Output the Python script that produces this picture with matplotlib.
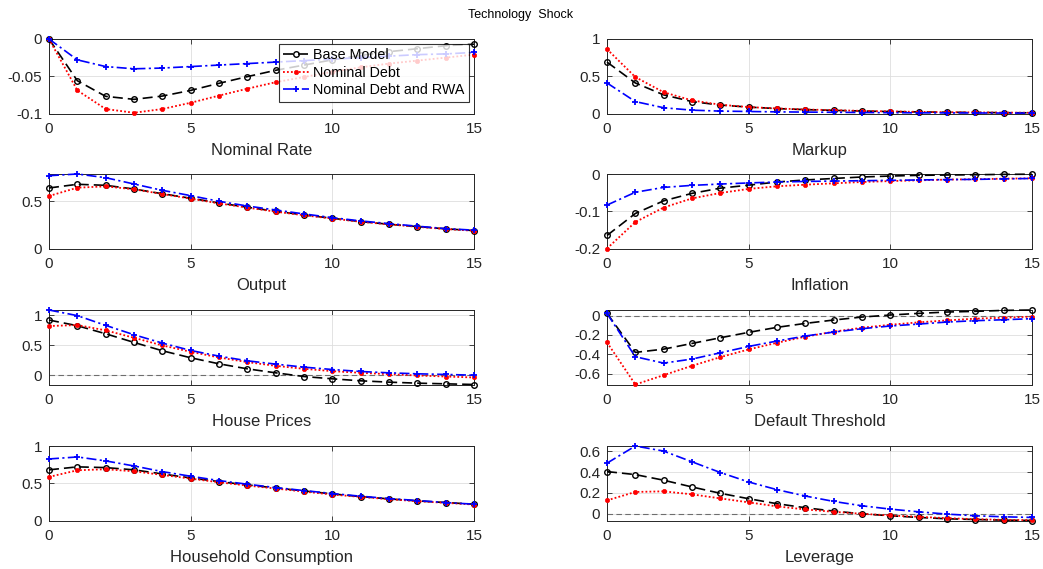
import matplotlib
matplotlib.use("Agg")
import matplotlib.pyplot as plt
import numpy as np

plt.rcParams['font.family'] = ['Liberation Sans', 'DejaVu Sans']

periods = list(range(16))
series_names = ["Base Model", "Nominal Debt", "Nominal Debt and RWA"]
panel_titles = ["Nominal Rate", "Markup", "Output", "Inflation",
                "House Prices", "Default Threshold", "Household Consumption", "Leverage"]

nominal_rate_base = [0, -0.056, -0.077, -0.081, -0.0766, -0.069, -0.0595, -0.0505, -0.042, -0.035, -0.028, -0.022, -0.017, -0.013, -0.009, -0.007]
nominal_rate_nd = [0, -0.069, -0.094, -0.099, -0.094, -0.0856, -0.076, -0.0667, -0.058, -0.051, -0.044, -0.038, -0.033, -0.029, -0.025, -0.021]
nominal_rate_rwa = [0, -0.028, -0.037, -0.040, -0.039, -0.037, -0.035, -0.033, -0.031, -0.029, -0.027, -0.025, -0.023, -0.021, -0.020, -0.018]

markup_base = [0.69, 0.41, 0.25, 0.16, 0.113, 0.086, 0.066, 0.052, 0.042, 0.033, 0.026, 0.021, 0.017, 0.014, 0.011, 0.009]
markup_nd = [0.864, 0.489, 0.285, 0.176, 0.118, 0.086, 0.068, 0.054, 0.045, 0.035, 0.028, 0.022, 0.018, 0.015, 0.012, 0.010]
markup_rwa = [0.41, 0.16, 0.077, 0.045, 0.032, 0.027, 0.022, 0.019, 0.016, 0.013, 0.011, 0.009, 0.008, 0.007, 0.006, 0.005]

output_base = [0.641, 0.68, 0.669, 0.63, 0.58, 0.532, 0.482, 0.437, 0.394, 0.356, 0.32, 0.285, 0.257, 0.232, 0.208, 0.19]
output_nd = [0.556, 0.644, 0.658, 0.627, 0.577, 0.528, 0.478, 0.433, 0.39, 0.352, 0.317, 0.283, 0.255, 0.23, 0.206, 0.188]
output_rwa = [0.771, 0.789, 0.75, 0.683, 0.616, 0.56, 0.5, 0.45, 0.408, 0.366, 0.327, 0.292, 0.264, 0.236, 0.211, 0.194]

inflation_base = [-0.165, -0.106, -0.072, -0.052, -0.038, -0.03, -0.0215, -0.016, -0.012, -0.008, -0.0055, -0.0036, -0.0027, -0.002, -0.001, -0.0005]
inflation_nd = [-0.2, -0.129, -0.09, -0.0655, -0.051, -0.04, -0.033, -0.0287, -0.025, -0.0215, -0.019, -0.017, -0.015, -0.014, -0.0125, -0.0115]
inflation_rwa = [-0.0834, -0.049, -0.036, -0.0305, -0.027, -0.024, -0.0215, -0.02, -0.019, -0.018, -0.017, -0.016, -0.015, -0.0145, -0.013, -0.012]

house_base = [0.917, 0.823, 0.69, 0.547, 0.409, 0.293, 0.193, 0.11, 0.044, -0.017, -0.055, -0.088, -0.11, -0.127, -0.138, -0.149]
house_nd = [0.818, 0.834, 0.746, 0.624, 0.497, 0.392, 0.298, 0.221, 0.16, 0.11, 0.072, 0.044, 0.022, 0.0, -0.017, -0.033]
house_rwa = [1.083, 0.99, 0.829, 0.674, 0.536, 0.414, 0.32, 0.243, 0.188, 0.138, 0.099, 0.066, 0.044, 0.028, 0.017, 0.005]

default_base = [0.024, -0.381, -0.347, -0.288, -0.229, -0.173, -0.121, -0.08, -0.045, -0.014, 0.007, 0.024, 0.038, 0.045, 0.055, 0.059]
default_nd = [-0.277, -0.714, -0.617, -0.52, -0.43, -0.35, -0.281, -0.218, -0.166, -0.125, -0.094, -0.069, -0.049, -0.031, -0.021, -0.01]
default_rwa = [0.024, -0.426, -0.492, -0.45, -0.385, -0.319, -0.263, -0.211, -0.17, -0.135, -0.107, -0.087, -0.066, -0.052, -0.042, -0.031]

cons_base = [0.68, 0.72, 0.71, 0.68, 0.625, 0.571, 0.522, 0.478, 0.437, 0.397, 0.357, 0.321, 0.29, 0.263, 0.241, 0.219]
cons_nd = [0.585, 0.674, 0.688, 0.66, 0.612, 0.562, 0.513, 0.469, 0.429, 0.388, 0.348, 0.317, 0.286, 0.259, 0.237, 0.214]
cons_rwa = [0.826, 0.853, 0.8, 0.732, 0.656, 0.594, 0.536, 0.487, 0.442, 0.402, 0.362, 0.326, 0.295, 0.268, 0.241, 0.219]

lev_base = [0.406, 0.377, 0.323, 0.258, 0.197, 0.145, 0.097, 0.058, 0.026, 0.0, -0.019, -0.035, -0.048, -0.055, -0.061, -0.0645]
lev_nd = [0.129, 0.21, 0.216, 0.187, 0.148, 0.11, 0.071, 0.042, 0.019, 0.0, -0.016, -0.029, -0.042, -0.052, -0.058, -0.061]
lev_rwa = [0.487, 0.652, 0.603, 0.5, 0.397, 0.306, 0.232, 0.171, 0.119, 0.077, 0.045, 0.019, -0.003, -0.019, -0.029, -0.035]

panels = [
    (nominal_rate_base, nominal_rate_nd, nominal_rate_rwa),
    (markup_base, markup_nd, markup_rwa),
    (output_base, output_nd, output_rwa),
    (inflation_base, inflation_nd, inflation_rwa),
    (house_base, house_nd, house_rwa),
    (default_base, default_nd, default_rwa),
    (cons_base, cons_nd, cons_rwa),
    (lev_base, lev_nd, lev_rwa),
]

ylims = [(-0.1, 0), (0, 1), (0, 0.789), (-0.2, 0), (-0.149, 1.083),
         (-0.714, 0.059), (0, 1), (-0.0645, 0.652)]
yticks = [[-0.1, -0.05, 0], [0, 0.5, 1], [0, 0.5], [-0.2, -0.1, 0],
          [0, 0.5, 1], [-0.6, -0.4, -0.2, 0], [0, 0.5, 1], [0, 0.2, 0.4, 0.6]]
ytick_labels = [["-0.1", "-0.05", "0"], ["0", "0.5", "1"], ["0", "0.5"], ["-0.2", "-0.1", "0"],
                ["0", "0.5", "1"], ["-0.6", "-0.4", "-0.2", "0"], ["0", "0.5", "1"],
                ["0", "0.2", "0.4", "0.6"]]
zero_line = [False, False, False, False, True, True, False, True]

fig = plt.figure(figsize=(10.43, 5.69), dpi=100)
W, H = 1043, 569
lefts = [49, 607]
tops = [39, 174, 310, 446]
aw, ah = 425, 74.5

styles = [
    dict(color='black', linestyle=(0, (6, 3)), marker='o', markersize=4, markerfacecolor='none',
         markeredgewidth=1.0, linewidth=1.2),
    dict(color='red', linestyle=(0, (1, 1.2)), marker='o', markersize=3.2, markerfacecolor='red',
         markeredgewidth=0.4, linewidth=1.3),
    dict(color='blue', linestyle=(0, (6, 2, 1.3, 2)), marker='+', markersize=4.5,
         markeredgewidth=1.3, linewidth=1.2),
]

dark = '#262626'
for i, data in enumerate(panels):
    r, c = divmod(i, 2)
    ax = fig.add_axes([lefts[c] / W, 1 - (tops[r] + ah) / H, aw / W, ah / H])
    ax.grid(True, color='#dedede', linewidth=0.6)
    ax.set_axisbelow(True)
    if zero_line[i]:
        ax.axhline(0, color='#6e6e6e', linestyle=(0, (5, 3)), linewidth=0.8)
    for s, vals in enumerate(data):
        ax.plot(periods, vals, label=series_names[s], **styles[s], clip_on=False, zorder=3)
    ax.set_xlim(0, 15)
    ax.set_ylim(*ylims[i])
    ax.set_xticks([0, 5, 10, 15])
    ax.set_yticks(yticks[i])
    ax.set_yticklabels(ytick_labels[i])
    ax.tick_params(direction='in', top=True, right=True, length=3.5, width=0.6,
                   labelsize=11, colors=dark)
    ax.tick_params(axis='x', pad=6)
    ax.tick_params(axis='y', pad=5)
    for sp in ax.spines.values():
        sp.set_color(dark)
        sp.set_linewidth(0.7)
    ax.set_xlabel(panel_titles[i], fontsize=12, color=dark, labelpad=5)
    if i == 0:
        leg = ax.legend(loc='upper right', fontsize=10.3, frameon=True, fancybox=False,
                        edgecolor='black', handlelength=1.8, borderpad=0.3,
                        labelspacing=0.25, handletextpad=0.3, borderaxespad=0.35)
        leg.get_frame().set_linewidth(0.8)
        leg.set_zorder(5)

fig.text(521 / W, 1 - 15 / H, "Technology  Shock", ha='center', va='center', fontsize=9, color='black')

fig.savefig("out.png", dpi=100)
